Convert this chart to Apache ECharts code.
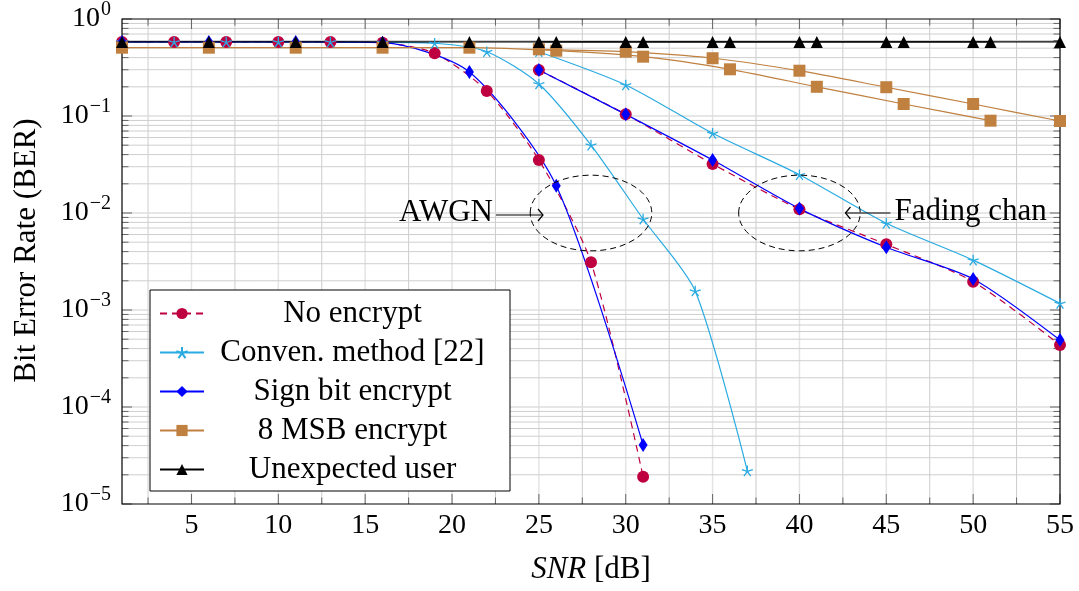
<!DOCTYPE html>
<html>
<head>
<meta charset="utf-8">
<script src="https://cdn.jsdelivr.net/npm/echarts@6/dist/echarts.min.js"></script>
<style>
  html, body { margin: 0; padding: 0; background: #fff; }
  #chart { width: 1079px; height: 591px; }
</style>
</head>
<body>
<div id="chart"></div>
<script>
// ---- data ----
var names = ['No encrypt', 'Conven. method [22]', 'Sign bit encrypt', '8 MSB encrypt', 'Unexpected user'];

// AWGN channel
var snrNoEncAwgn = [1, 4, 7, 10, 13, 16, 19, 22, 25, 28, 31];
var berNoEncAwgn = [0.58, 0.58, 0.58, 0.58, 0.58, 0.57, 0.443, 0.181, 0.0352, 0.0031, 1.91e-5];
var snrConvAwgn = [1, 4, 7, 10, 13, 16, 19, 22, 25, 28, 31, 34, 37];
var berConvAwgn = [0.58, 0.58, 0.58, 0.58, 0.58, 0.575, 0.562, 0.46, 0.214, 0.0502, 0.00867, 0.00157, 2.2e-5];
var snrSignAwgn = [1, 6, 11, 16, 21, 26, 31];
var berSignAwgn = [0.58, 0.58, 0.58, 0.57, 0.284, 0.0191, 4.06e-5];
var snrMsbAwgn = [1, 6, 11, 16, 21, 26, 31, 36, 41, 46, 51];
var berMsbAwgn = [0.506, 0.506, 0.506, 0.506, 0.506, 0.471, 0.409, 0.303, 0.2, 0.133, 0.0895];
var berUserAwgn = [0.58, 0.58, 0.58, 0.58, 0.58, 0.58, 0.58, 0.58, 0.58, 0.58, 0.58];

// fading channel
var snrFade = [25, 30, 35, 40, 45, 50, 55];
var berNoEncFade = [0.298, 0.104, 0.032, 0.0109, 0.00475, 0.00196, 0.000436];
var berConvFade = [0.46, 0.209, 0.0663, 0.0248, 0.00783, 0.00327, 0.00117];
var berSignFade = [0.298, 0.104, 0.0352, 0.0111, 0.00443, 0.00209, 0.00049];
var berMsbFade = [0.487, 0.46, 0.394, 0.293, 0.198, 0.133, 0.0888];
var berUserFade = [0.58, 0.58, 0.58, 0.58, 0.58, 0.58, 0.58];

// axis ticks
var xLabels = [5, 10, 15, 20, 25, 30, 35, 40, 45, 50, 55];
var xMinor = [2.5, 7.5, 12.5, 17.5, 22.5, 27.5, 32.5, 37.5, 42.5, 47.5, 52.5];
var yDecades = [1e-5, 1e-4, 1e-3, 1e-2, 1e-1, 1];

var xMin = 1, xMax = 55, yMin = 1e-5, yMax = 1;
var FONT = '"Liberation Serif", "DejaVu Serif", serif';
var TXT = 31;
var RED = '#bf0040', CYAN = '#29abe2', BLUE = '#0000ff', BROWN = '#bf8040', BLACK = '#000000';
var STAR = 'path://M0,-10L0,0M9.51,-3.09L0,0M5.88,8.09L0,0M-5.88,8.09L0,0M-9.51,-3.09L0,0';

var yMinor = [];
yDecades.slice(0, -1).forEach(function (d) {
  for (var m = 2; m <= 9; m++) yMinor.push(m * d);
});

function pairs(xs, ys) {
  return xs.map(function (x, i) { return [x, ys[i]]; });
}

function curve(name, xs, ys, color, symbol, size, dashed) {
  return {
    name: name, type: 'line', data: pairs(xs, ys),
    smooth: 0.25,
    symbol: symbol, symbolSize: size, symbolKeepAspect: true,
    lineStyle: { color: color, width: 1.2, type: dashed ? [7, 5] : 'solid' },
    itemStyle: { color: color, borderColor: color, borderWidth: symbol === STAR ? 1.3 : 0 },
    z: 3
  };
}

// grid lines, ticks and frame drawn through the axis scales
function drawFrame(params, api) {
  var ch = [];
  function seg(a, b, color, w) {
    ch.push({ type: 'line', shape: { x1: a[0], y1: a[1], x2: b[0], y2: b[1] },
      style: { stroke: color, lineWidth: w } });
  }
  xLabels.forEach(function (v) {
    if (v < xMax) seg(api.coord([v, yMin]), api.coord([v, yMax]), '#e4e4e4', 1.5);
  });
  xMinor.forEach(function (v) { seg(api.coord([v, yMin]), api.coord([v, yMax]), '#cccccc', 1); });
  yMinor.forEach(function (v) { seg(api.coord([xMin, v]), api.coord([xMax, v]), '#cfcfcf', 1); });
  yDecades.forEach(function (v) {
    if (v > yMin && v < yMax) seg(api.coord([xMin, v]), api.coord([xMax, v]), '#dedede', 1.5);
  });
  // ticks (inward, all four sides)
  function xTick(v, len) {
    var b = api.coord([v, yMin]), t = api.coord([v, yMax]);
    seg(b, [b[0], b[1] - len], '#666', 1);
    seg(t, [t[0], t[1] + len], '#666', 1);
  }
  function yTick(v, len) {
    var l = api.coord([xMin, v]), r = api.coord([xMax, v]);
    seg(l, [l[0] + len, l[1]], '#666', 1);
    seg(r, [r[0] - len, r[1]], '#666', 1);
  }
  xLabels.forEach(function (v) { xTick(v, 10); });
  xMinor.forEach(function (v) { xTick(v, 6.5); });
  yDecades.forEach(function (v) { yTick(v, 10); });
  yMinor.forEach(function (v) { yTick(v, 6.5); });
  var tl = api.coord([xMin, yMax]), br = api.coord([xMax, yMin]);
  ch.push({ type: 'rect', shape: { x: tl[0], y: tl[1], width: br[0] - tl[0], height: br[1] - tl[1] },
    style: { fill: 'none', stroke: '#000', lineWidth: 1.2 } });
  return { type: 'group', children: ch };
}

var chart = echarts.init(document.getElementById('chart'));

var option = {
  animation: false,
  backgroundColor: '#fff',
  textStyle: { fontFamily: FONT, color: '#000' },
  grid: { left: 122, right: 19, top: 19, bottom: 87 },
  xAxis: {
    type: 'value', min: xMin, max: xMax,
    name: '{i|SNR} [dB]', nameLocation: 'middle', nameGap: 50,
    nameTextStyle: {
      fontFamily: FONT, fontSize: TXT, color: '#000',
      rich: { i: { fontFamily: FONT, fontSize: TXT, fontStyle: 'italic', color: '#000' } }
    },
    axisLine: { show: false }, axisTick: { show: false }, splitLine: { show: false },
    axisLabel: { customValues: xLabels, fontFamily: FONT, fontSize: 28, color: '#000', margin: 8 }
  },
  yAxis: {
    type: 'log', logBase: 10, min: yMin, max: yMax, interval: 1,
    name: 'Bit Error Rate (BER)', nameLocation: 'middle', nameGap: 80, nameRotate: 90,
    nameTextStyle: { fontFamily: FONT, fontSize: TXT, color: '#000', padding: [0, 0, 0, 22] },
    axisLine: { show: false }, axisTick: { show: false }, splitLine: { show: false },
    axisLabel: {
      margin: 11,
      formatter: function (v) {
        var e = Math.round(Math.log10(v));
        return '{b|10}{s|' + (e < 0 ? '\u2212' + (-e) : e) + '}';
      },
      rich: {
        b: { fontFamily: FONT, fontSize: 28, lineHeight: 38, color: '#000' },
        s: { fontFamily: FONT, fontSize: 20, verticalAlign: 'top', color: '#000', padding: [0, 0, 0, 1] }
      }
    }
  },
  legend: {
    data: names, orient: 'vertical', left: 150, top: 290,
    itemWidth: 44, itemHeight: 14, itemGap: 8,
    padding: [8, 14, 6, 9], selectedMode: false,
    backgroundColor: '#fff', borderColor: '#000', borderWidth: 1, borderRadius: 0,
    formatter: function (n) { return '{t|' + n + '}'; },
    textStyle: {
      rich: { t: { width: 287, align: 'center', fontFamily: FONT, fontSize: TXT, lineHeight: 34, color: '#000' } }
    },
    z: 10
  },
  series: [
    { type: 'custom', renderItem: drawFrame, data: [[xMin, yMax]], silent: true, z: 1, clip: false },
    curve('No encrypt', snrNoEncAwgn, berNoEncAwgn, RED, 'circle', 12, true),
    curve('No encrypt', snrFade, berNoEncFade, RED, 'circle', 12, true),
    curve('Conven. method [22]', snrConvAwgn, berConvAwgn, CYAN, STAR, 11, false),
    curve('Conven. method [22]', snrFade, berConvFade, CYAN, STAR, 11, false),
    curve('Sign bit encrypt', snrSignAwgn, berSignAwgn, BLUE, 'diamond', [9, 14], false),
    curve('Sign bit encrypt', snrFade, berSignFade, BLUE, 'diamond', [9, 14], false),
    curve('8 MSB encrypt', snrMsbAwgn, berMsbAwgn, BROWN, 'rect', 12, false),
    curve('8 MSB encrypt', snrFade, berMsbFade, BROWN, 'rect', 12, false),
    curve('Unexpected user', snrMsbAwgn, berUserAwgn, BLACK, 'triangle', 12, false),
    curve('Unexpected user', snrFade, berUserFade, BLACK, 'triangle', 12, false)
  ]
};
chart.setOption(option);

// annotations: dashed ellipses around the channel groups, anchored in data coordinates
var awgnSpot = [28, 0.01], fadeSpot = [40, 0.01];
var spotHalfWidth = 3.5, spotHalfDecades = 0.39;

function ellipseAt(spot) {
  var c = chart.convertToPixel({ gridIndex: 0 }, spot);
  var e = chart.convertToPixel({ gridIndex: 0 }, [spot[0] + spotHalfWidth, spot[1] * Math.pow(10, spotHalfDecades)]);
  return { cx: c[0], cy: c[1], rx: e[0] - c[0], ry: c[1] - e[1] };
}
var a = ellipseAt(awgnSpot), f = ellipseAt(fadeSpot);
var dash = { fill: 'none', stroke: '#000', lineWidth: 1, lineDash: [6, 4] };
var solid = { fill: 'none', stroke: '#000', lineWidth: 1.2 };
var aTip = a.cx - 48, aY = a.cy + 2;
var fTip = f.cx + 46, fY = f.cy;

chart.setOption({
  graphic: [
    { type: 'ellipse', shape: a, style: dash, z: 5 },
    { type: 'ellipse', shape: f, style: dash, z: 5 },
    { type: 'line', shape: { x1: aTip - 47, y1: aY, x2: aTip, y2: aY }, style: solid, z: 5 },
    { type: 'polyline', shape: { points: [[aTip - 5, aY - 6], [aTip, aY], [aTip - 5, aY + 6]] }, style: solid, z: 5 },
    { type: 'text', x: aTip - 50, y: aY - 2, z: 5,
      style: { text: 'AWGN', font: TXT + 'px ' + FONT, fill: '#000', align: 'right', verticalAlign: 'middle' } },
    { type: 'line', shape: { x1: fTip, y1: fY, x2: fTip + 45, y2: fY }, style: solid, z: 5 },
    { type: 'polyline', shape: { points: [[fTip + 5, fY - 6], [fTip, fY], [fTip + 5, fY + 6]] }, style: solid, z: 5 },
    { type: 'text', x: fTip + 49, y: fY - 1, z: 5,
      style: { text: 'Fading chan', font: TXT + 'px ' + FONT, fill: '#000', align: 'left', verticalAlign: 'middle' } }
  ]
});
</script>
</body>
</html>
